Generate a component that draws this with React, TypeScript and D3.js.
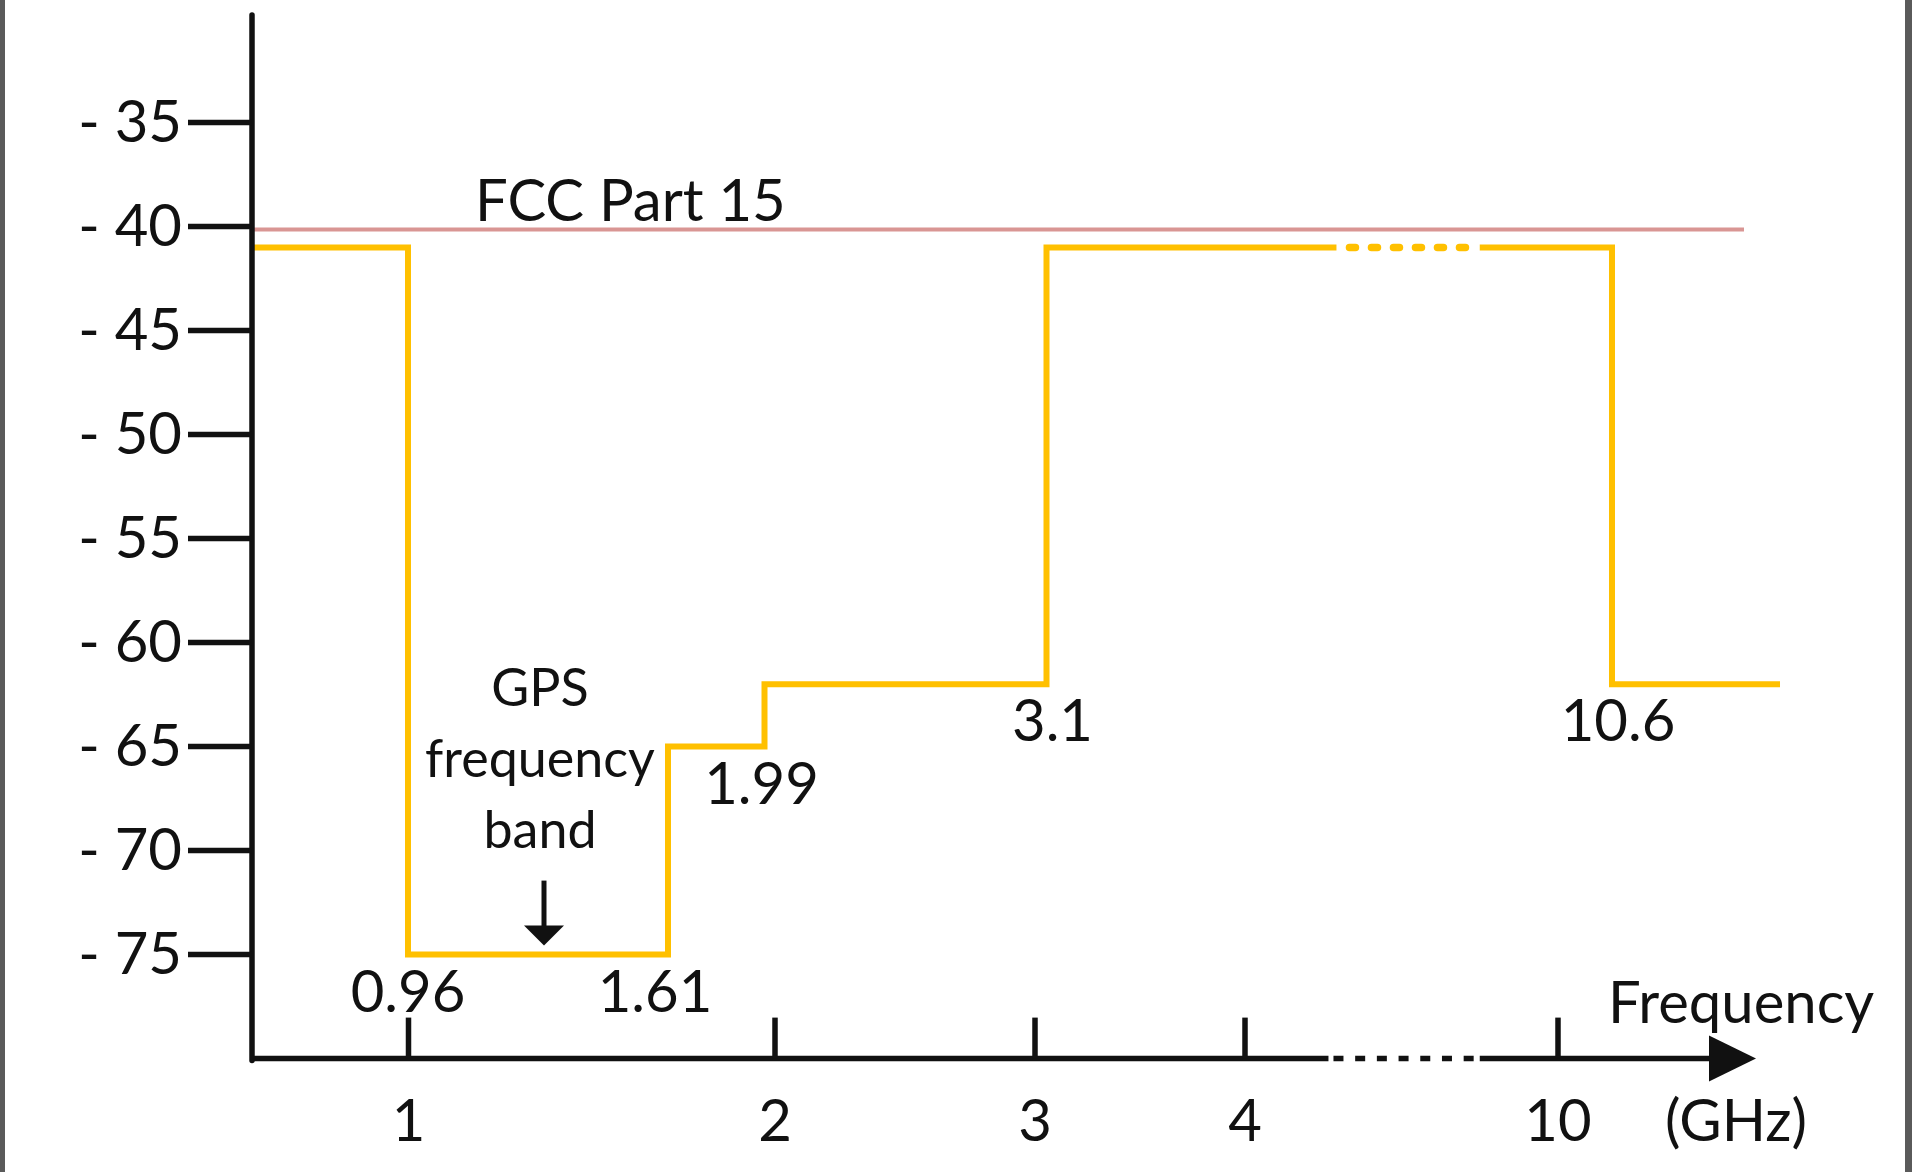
import React from 'react';
import * as d3 from 'd3';

// ---------------- Data ----------------
// UWB emission mask (schematic): band edges in GHz and the level of each band in dBm/MHz
const maskEdgesGHz = [0, 0.96, 1.61, 1.99, 3.1, 10.6, 12];
const maskLevelsDbm = [-41, -75, -65, -62, -41, -62];
const edgeLabels = ['0.96', '1.61', '1.99', '3.1', '10.6'];

const fccLimitDbm = -40;
const fccRangeGHz = [0, 11.7];
const fccLabel = 'FCC Part 15';

const xTickValues = [1, 2, 3, 4, 10];
const xTickLabels = ['1', '2', '3', '4', '10'];
const yTickValues = [-35, -40, -45, -50, -55, -60, -65, -70, -75];
const yTickLabels = ['- 35', '- 40', '- 45', '- 50', '- 55', '- 60', '- 65', '- 70', '- 75'];

const axisBreakGHz = [5.6, 8.5];
const gpsBandGHz = [0.96, 1.61];
const gpsLines = ['GPS', 'frequency', 'band'];
const xAxisTitle = 'Frequency';
const xAxisUnit = '(GHz)';

// ---------------- Layout ----------------
const W = 1912;
const H = 1172;
// schematic (broken, non-uniform) frequency axis: anchor frequencies -> pixel anchors
const xAnchorGHz = [0, 0.96, 1, 1.61, 1.99, 2, 3, 3.1, 4, 10, 10.6, 12];
const xAnchorPx = [252, 408, 408.5, 668, 764.5, 775, 1035, 1046.5, 1245, 1558, 1612, 1780];
const xAxisEndGHz = 11.8;
const yAxisBottomDbm = -80;
const yAxisTopPx = 15;
const edgeLabelDx = [0, -13, -3, 6, 6];

const FONT = "Lato, 'Open Sans', sans-serif";
const YELLOW = '#FFC000';
const PINK = '#D99694';
const INK = '#111111';
const AXIS_W = 5.5;

export default function App() {
  const x = d3.scaleLinear().domain(xAnchorGHz).range(xAnchorPx);
  const y = d3.scaleLinear().domain([-35, -80]).range([122.6, 1058.6]);

  const yAxis = y(yAxisBottomDbm);
  const xAxis0 = x(0);

  const stepPts: [number, number][] = maskEdgesGHz.map((f, i) => [
    f,
    maskLevelsDbm[Math.min(i, maskLevelsDbm.length - 1)],
  ]);
  const stepLine = d3
    .line<[number, number]>()
    .x((d) => x(d[0]))
    .y((d) => y(d[1]))
    .curve(d3.curveStepAfter);

  const bx0 = x(axisBreakGHz[0]);
  const bx1 = x(axisBreakGHz[1]);
  const breakLevel = maskLevelsDbm[d3.bisectRight(maskEdgesGHz, axisBreakGHz[0]) - 1];

  const tipX = x(xAxisEndGHz);
  const headLen = 47;
  const headHalf = 23;

  const gpsMid = (x(gpsBandGHz[0]) + x(gpsBandGHz[1])) / 2;
  const arrowTip = y(-75) - 9;
  const arrowTop = arrowTip - 65;

  return (
    <div style={{ position: 'absolute', left: 0, top: 0 }}>
      <svg width={W} height={H} style={{ display: 'block', background: '#fff' }} fontFamily={FONT}>
        <defs>
          <clipPath id="brk">
            <rect x={0} y={0} width={bx0 + 8} height={H} />
            <rect x={bx1} y={0} width={W - bx1} height={H} />
          </clipPath>
          <clipPath id="brkAxis">
            <rect x={0} y={0} width={bx0} height={H} />
            <rect x={bx1} y={0} width={W - bx1} height={H} />
          </clipPath>
        </defs>
        <rect x={0} y={0} width={W} height={H} fill="#fff" />
        {/* edge strips of the scanned figure */}
        <rect x={0} y={0} width={5} height={H} fill="#5a5a5a" />
        <rect x={W - 7} y={0} width={7} height={H} fill="#5a5a5a" />

        {/* FCC Part 15 limit */}
        <line
          x1={x(fccRangeGHz[0])}
          x2={x(fccRangeGHz[1])}
          y1={y(fccLimitDbm) + 3}
          y2={y(fccLimitDbm) + 3}
          stroke={PINK}
          strokeWidth={4}
        />
        <text x={475} y={y(fccLimitDbm) - 6} fontSize={58} fill={INK}>
          {fccLabel}
        </text>

        {/* emission mask */}
        <path
          d={stepLine(stepPts) || ''}
          fill="none"
          stroke={YELLOW}
          strokeWidth={6}
          clipPath="url(#brk)"
        />
        <line
          x1={bx0 + 21}
          x2={bx1 - 9}
          y1={y(breakLevel)}
          y2={y(breakLevel)}
          stroke={YELLOW}
          strokeWidth={7.5}
          strokeLinecap="round"
          strokeDasharray="6 16"
        />

        {/* band edge labels */}
        {edgeLabels.map((lab, i) => {
          const f = maskEdgesGHz[i + 1];
          const low = Math.min(maskLevelsDbm[i], maskLevelsDbm[i + 1]);
          return (
            <text
              key={lab}
              x={x(f) + edgeLabelDx[i]}
              y={y(low) + 57}
              fontSize={58}
              fill={INK}
              textAnchor="middle"
            >
              {lab}
            </text>
          );
        })}

        {/* GPS annotation */}
        {gpsLines.map((t, i) => (
          <text
            key={t}
            x={gpsMid + 2}
            y={arrowTop - 33 - (gpsLines.length - 1 - i) * 71}
            fontSize={52}
            fill={INK}
            textAnchor="middle"
          >
            {t}
          </text>
        ))}
        <line x1={gpsMid + 6} x2={gpsMid + 6} y1={arrowTop} y2={arrowTip - 16} stroke={INK} strokeWidth={5} />
        <polygon
          points={`${gpsMid + 6 - 20},${arrowTip - 20} ${gpsMid + 6 + 20},${arrowTip - 20} ${gpsMid + 6},${arrowTip}`}
          fill={INK}
        />

        {/* y axis */}
        <line x1={xAxis0} x2={xAxis0} y1={yAxisTopPx} y2={yAxis + 2} stroke={INK} strokeWidth={AXIS_W} strokeLinecap="round" />
        {yTickValues.map((v, i) => (
          <g key={v}>
            <line x1={xAxis0 - 64} x2={xAxis0} y1={y(v)} y2={y(v)} stroke={INK} strokeWidth={AXIS_W} />
            <text x={182} y={y(v) + 19} fontSize={58} fill={INK} textAnchor="end">
              {yTickLabels[i]}
            </text>
          </g>
        ))}

        {/* x axis */}
        <line
          x1={xAxis0}
          x2={tipX - headLen + 2}
          y1={yAxis}
          y2={yAxis}
          stroke={INK}
          strokeWidth={AXIS_W}
          clipPath="url(#brkAxis)"
        />
        <line
          x1={bx0 + 5}
          x2={bx1 - 6}
          y1={yAxis}
          y2={yAxis}
          stroke={INK}
          strokeWidth={AXIS_W}
          strokeDasharray="10 11.7"
        />
        <polygon
          points={`${tipX},${yAxis} ${tipX - headLen},${yAxis - headHalf} ${tipX - headLen},${yAxis + headHalf}`}
          fill={INK}
        />
        {xTickValues.map((v, i) => (
          <g key={v}>
            <line x1={x(v)} x2={x(v)} y1={yAxis - 41} y2={yAxis} stroke={INK} strokeWidth={AXIS_W} />
            <text x={x(v)} y={yAxis + 82} fontSize={58} fill={INK} textAnchor="middle">
              {xTickLabels[i]}
            </text>
          </g>
        ))}
        <text x={x(10) + 50} y={yAxis - 36} fontSize={58} fill={INK}>
          {xAxisTitle}
        </text>
        <text x={x(10) + 107} y={yAxis + 82} fontSize={58} fill={INK}>
          {xAxisUnit}
        </text>
      </svg>
    </div>
  );
}
